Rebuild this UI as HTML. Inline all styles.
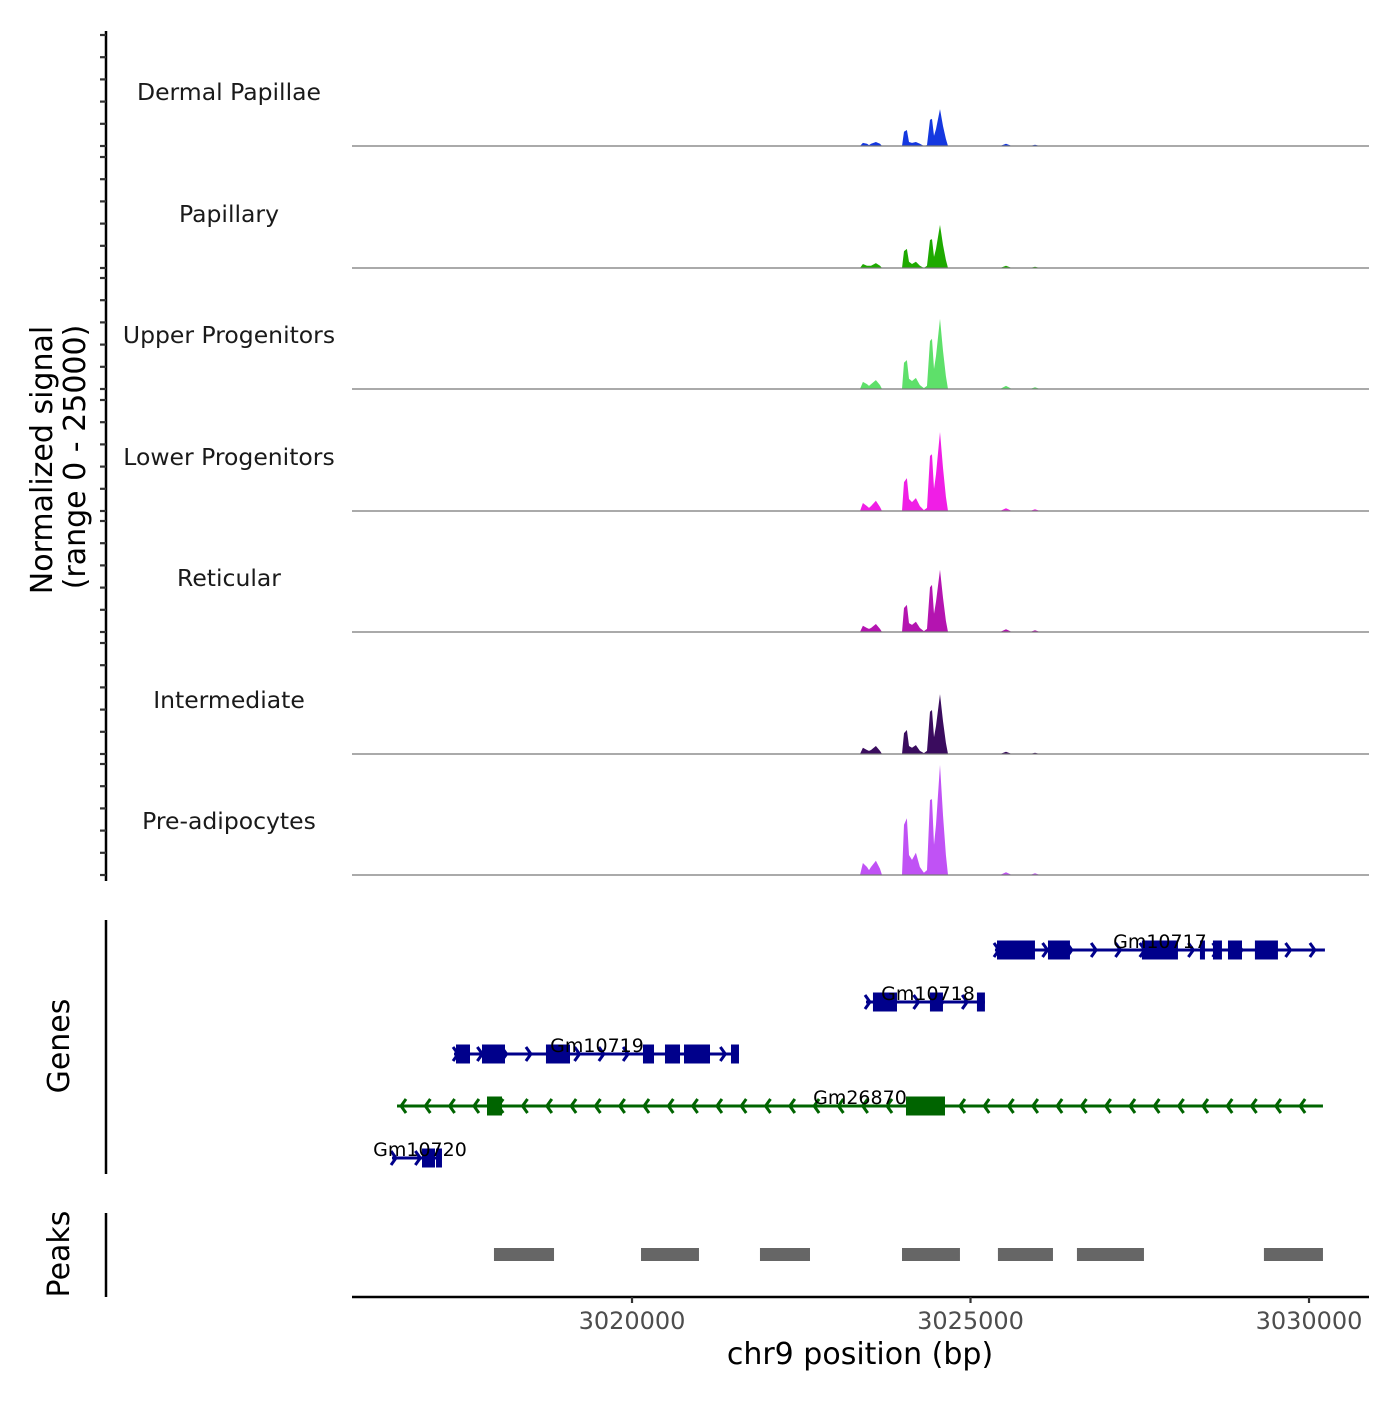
<!DOCTYPE html>
<html><head><meta charset="utf-8"><style>
body{margin:0;background:#fff;}
svg text{font-family:"DejaVu Sans","Liberation Sans",sans-serif;}
</style></head><body>
<svg id="chart" width="1400" height="1400" viewBox="0 0 1400 1400" xmlns="http://www.w3.org/2000/svg">
<rect width="1400" height="1400" fill="#fff"/>
<g id="tracks"></g><g id="genes"></g><g id="peaks"></g><g id="axes"></g>
</svg>
<script>
const trackNames = ["Dermal Papillae","Papillary","Upper Progenitors","Lower Progenitors","Reticular","Intermediate","Pre-adipocytes"];
const trackColors = ["#1538e0","#1eaa00","#5ee06a","#f01ee6","#b414b0","#3a0c5e","#c052f5"];
const positions = [3023367,3023411,3023471,3023500,3023530,3023603,3023663,3023692,3023988,3024017,3024061,3024091,3024135,3024194,3024253,3024312,3024357,3024401,3024431,3024460,3024490,3024549,3024593,3024637,3024667,3025435,3025524,3025612,3025878,3025952,3026026];
const sigDermal = [0,700,500,200,500,900,500,0,0,3200,3600,900,700,900,500,0,200,5900,6100,2300,3800,8300,4500,1600,0,0,500,0,0,300,0];
const sigPapillary = [0,900,500,500,500,1100,500,0,0,3800,4300,1400,900,1400,500,0,500,6300,6500,2500,4300,9700,5200,1800,0,0,500,0,0,300,0];
const sigUpper = [0,1600,1100,700,1100,2000,900,0,0,5900,6500,2300,1800,2500,900,200,700,10800,11300,4500,7400,15800,8600,2900,0,0,700,0,0,400,0];
const sigLower = [0,1800,1100,700,1100,2300,900,0,0,6500,7400,2700,2000,2900,1100,200,700,12400,12800,5000,8300,17800,9700,3200,0,0,600,0,0,400,0];
const sigReticular = [0,1400,900,700,900,1800,700,0,0,5400,6100,2000,1600,2300,900,200,700,10100,10600,4100,6800,14000,7700,2500,0,0,600,0,0,400,0];
const sigIntermediate = [0,1400,900,700,900,1800,700,0,0,4700,5400,1800,1400,2000,700,200,700,9500,9900,3800,6300,13500,7400,2500,0,0,500,0,0,300,0];
const sigPreadipo = [0,2700,1800,1100,1800,3200,1400,0,0,11300,12800,4500,3400,5000,1800,500,1100,16900,17100,6800,11300,24800,13500,4500,0,0,600,0,0,400,0];
const yTicks = [0,5000,10000,15000,20000,25000];
const xTicks = [3020000,3025000,3030000];
const xTickLabels = ["3020000","3025000","3030000"];
const geneNames = ["Gm10717","Gm10718","Gm10719","Gm26870","Gm10720"];
const geneStrand = [1,1,1,-1,1];
const geneStart = [3025361,3023456,3017371,3016529,3016455];
const geneEnd = [3030235,3025213,3021580,3030206,3017193];
const geneExons = [
 [[3025391,3025952],[3026144,3026469],[3027532,3028064],[3028389,3028463],[3028581,3028714],[3028803,3029010],[3029201,3029541]],
 [[3023559,3023914],[3024401,3024593],[3025095,3025213]],
 [[3017400,3017607],[3017784,3018124],[3018729,3019084],[3020162,3020325],[3020487,3020709],[3020768,3021152],[3021462,3021580]],
 [[3017858,3018080],[3024047,3024623]],
 [[3016898,3017090],[3017105,3017193]]
];
const geneLabelPos = [3027798,3024372,3019483,3023367,3016868];
const peakStart = [3017961,3020133,3021890,3023988,3025405,3026572,3029334];
const peakEnd = [3018848,3020989,3022629,3024844,3026218,3027562,3030206];

const NS="http://www.w3.org/2000/svg";
const X0=352,X1=1369,BP0=3015864,BP1=3030886;
const xs=bp=>X0+(bp-BP0)/(BP1-BP0)*(X1-X0);
const baselines=[146,268,389,511,632,754,875];
const trackH=111,yMax=25000;
const ys=(v,i)=>baselines[i]-v/yMax*trackH;
function mk(tag,attrs,parent,text){const e=document.createElementNS(NS,tag);for(const k in attrs)e.setAttribute(k,attrs[k]);if(text!==undefined)e.textContent=text;parent.appendChild(e);return e;}
const allSig=[sigDermal,sigPapillary,sigUpper,sigLower,sigReticular,sigIntermediate,sigPreadipo];
const gT=document.getElementById('tracks');
allSig.forEach((sig,i)=>{
  let d=`M${xs(positions[0])},${baselines[i]}`;
  positions.forEach((p,j)=>{d+=` L${xs(p).toFixed(1)},${ys(sig[j],i).toFixed(1)}`;});
  d+=` L${xs(positions[positions.length-1])},${baselines[i]} Z`;
  const a=mk('path',{d:d,fill:trackColors[i]},gT);
  
  
  const bl=mk('line',{x1:X0,x2:X1,y1:baselines[i],y2:baselines[i],stroke:'#777','stroke-width':1.2},gT);
  
  
  const t=mk('text',{x:229,y:baselines[i]-46,'text-anchor':'middle','font-size':23.5,fill:'#1a1a1a'},gT,trackNames[i]);
  
  
});
const gA=document.getElementById('axes');
const ya=mk('line',{x1:106,x2:106,y1:31,y2:881,stroke:'#000','stroke-width':2.5},gA);


baselines.forEach((b,i)=>{yTicks.forEach(v=>{const tk=mk('line',{x1:100,x2:106,y1:ys(v,i),y2:ys(v,i),stroke:'#333','stroke-width':2.2},gA);
 
 });});
const yt=mk('text',{transform:'translate(52,460) rotate(-90)','text-anchor':'middle','font-size':30,fill:'#000'},gA,'Normalized signal');


const yt2=mk('text',{transform:'translate(85,457) rotate(-90)','text-anchor':'middle','font-size':30,fill:'#000'},gA,'(range 0 - 25000)');


// genes
const gG=document.getElementById('genes');
const rowY=[950,1002,1054,1106,1158];
const ga=mk('line',{x1:106,x2:106,y1:920,y2:1174,stroke:'#000','stroke-width':2.5},gG);


const gtl=mk('text',{transform:'translate(69,1046) rotate(-90)','text-anchor':'middle','font-size':30,fill:'#000'},gG,'Genes');


geneNames.forEach((n,i)=>{
  const col=geneStrand[i]>0?'#00008b':'#006400';
  const y=rowY[i];
  const g=mk('g',{},gG);
  
  
  const xa=xs(geneStart[i]),xb=xs(geneEnd[i]);
  mk('line',{x1:xa,x2:xb,y1:y,y2:y,stroke:col,'stroke-width':3},g);
  for(let x=xa+4;x<=xb;x+=24.3){
    const s=geneStrand[i]*5;
    mk('polyline',{points:`${x-s},${y-7} ${x},${y} ${x-s},${y+7}`,fill:'none',stroke:col,'stroke-width':3},g);
  }
  geneExons[i].forEach(e=>{mk('rect',{x:xs(e[0]),y:y-9.5,width:Math.max(3,xs(e[1])-xs(e[0])),height:19,fill:col},g);});
  const lb=mk('text',{x:xs(geneLabelPos[i]),y:y-2,'text-anchor':'middle','font-size':19,fill:'#000'},gG,n);
  
  
});
// peaks
const gP=document.getElementById('peaks');
const pa=mk('line',{x1:106,x2:106,y1:1213,y2:1297,stroke:'#000','stroke-width':2.5},gP);


const ptl=mk('text',{transform:'translate(69,1254) rotate(-90)','text-anchor':'middle','font-size':30,fill:'#000'},gP,'Peaks');


peakStart.forEach((s,i)=>{const r=mk('rect',{x:xs(s),y:1248,width:xs(peakEnd[i])-xs(s),height:13,fill:'#666'},gP);
 
 });
// x axis
const xa=mk('line',{x1:X0,x2:X1,y1:1297,y2:1297,stroke:'#000','stroke-width':2.5},gA);


xTicks.forEach((t,i)=>{
  const tk=mk('line',{x1:xs(t),x2:xs(t),y1:1297,y2:1303,stroke:'#333','stroke-width':2.2},gA);
  
  
  const tl=mk('text',{x:xs(t),y:1329,'text-anchor':'middle','font-size':24,fill:'#4d4d4d'},gA,xTickLabels[i]);
  
  
});
const xt=mk('text',{x:860,y:1364,'text-anchor':'middle','font-size':30,fill:'#000'},gA,'chr9 position (bp)');


</script>
</body></html>
